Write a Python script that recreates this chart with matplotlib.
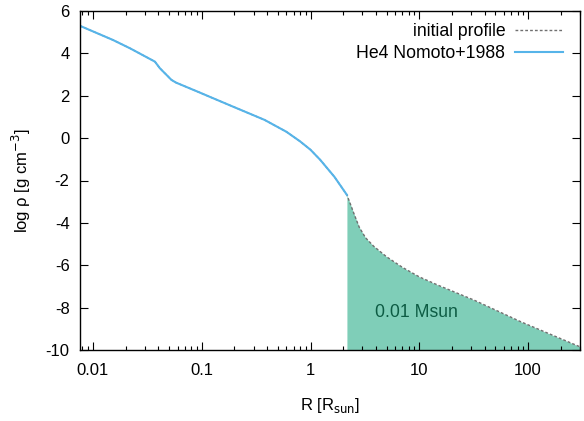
import numpy as np
import matplotlib.pyplot as plt
from matplotlib.ticker import FixedLocator, LogLocator, NullFormatter

plt.rcParams['font.family'] = ['Liberation Sans', 'DejaVu Sans']
plt.rcParams['axes.unicode_minus'] = False

# Density profiles (R in Rsun, log rho in g cm^-3)
r_he4 = [0.0076, 0.0153, 0.0219, 0.0371, 0.0412, 0.0526, 0.058, 0.092, 0.121,
         0.185, 0.378, 0.6, 0.8, 1.0, 1.23, 1.66, 2.16]
rho_he4 = [5.3, 4.63, 4.24, 3.61, 3.30, 2.75, 2.62, 2.19, 1.93,
           1.53, 0.86, 0.3, -0.15, -0.55, -1.03, -1.83, -2.68]

r_env = [2.16, 2.3, 2.5, 2.8, 3.2, 3.8, 5.0, 7.0, 10, 15, 32, 86, 300]
rho_env = [-2.68, -3.05, -3.55, -4.2, -4.7, -5.1, -5.6, -6.1, -6.55, -6.95, -7.65, -8.67, -9.85]

r_init = r_he4[:-1] + r_env
rho_init = rho_he4[:-1] + rho_env

env_label = '0.01 Msun'

fig = plt.figure(figsize=(5.84, 4.21), dpi=100)
ax = fig.add_axes([80/584, 71/421, 500/584, 339/421])

ax.fill_between(r_env, rho_env, -10, color='#009e73', alpha=0.5, lw=0)
ax.plot(r_init, rho_init, ls=(0, (2, 1.5)), color='#707070', lw=1, label='initial profile')
ax.plot(r_he4, rho_he4, color='#56b4e9', lw=1.5, label='He4 Nomoto+1988')
ax.text(9.4, -8.25, env_label, color='#0d5c44', fontsize=12.7, ha='center', va='center')

ax.set_xscale('log')
ax.set_xlim(0.0076, 300)
ax.set_ylim(-10, 6)
ax.xaxis.set_major_locator(FixedLocator([0.01, 0.1, 1, 10, 100]))
ax.set_xticklabels(['0.01', '0.1', '1', '10', '100'])
ax.xaxis.set_minor_locator(LogLocator(base=10, subs=np.arange(2, 10)))
ax.xaxis.set_minor_formatter(NullFormatter())
ax.set_yticks(np.arange(-10, 7, 2))

ax.tick_params(which='both', direction='in', top=True, right=True, labelsize=12, width=0.8)
ax.tick_params(axis='x', pad=9.5)
ax.tick_params(axis='y', pad=7.5)
ax.tick_params(which='major', length=6)
ax.tick_params(which='minor', length=3)
for s in ax.spines.values():
    s.set_linewidth(1)

ax.set_xlabel(r'R [R$_{\mathrm{sun}}$]', fontsize=12, labelpad=13)
ax.set_ylabel(r'log ρ [g cm$^{\mathrm{-3}}$]', fontsize=12, labelpad=9)

ax.legend(loc='upper right', frameon=False, markerfirst=False, fontsize=12.7,
          handlelength=2.7, handletextpad=0.57, borderpad=0, borderaxespad=0,
          labelspacing=0.27, bbox_to_anchor=(563/584, 1 - 23/421),
          bbox_transform=fig.transFigure)

fig.savefig('out.png', dpi=100)
